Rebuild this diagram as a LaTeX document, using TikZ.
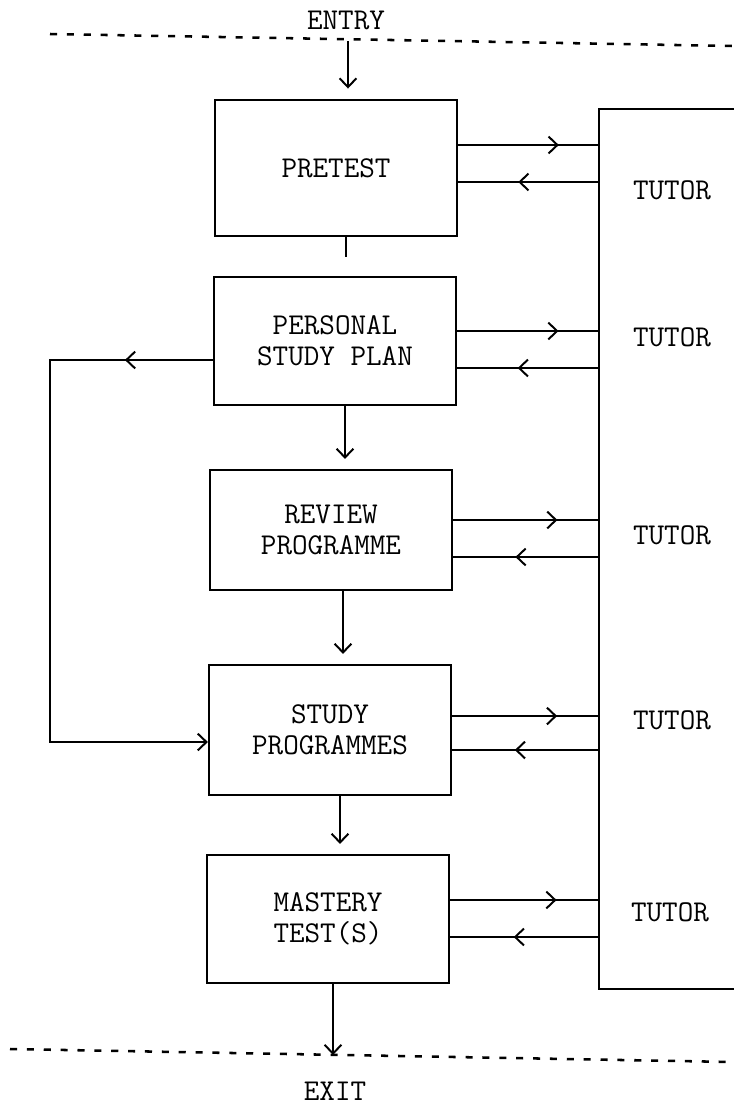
\documentclass[tikz,border=0pt]{standalone}
\usepackage{tikz}
\usetikzlibrary{arrows.meta,positioning,decorations.markings}

\begin{document}
\begin{tikzpicture}[x=0.025cm,y=-0.025cm,>={Straight Barb[length=.22cm,width=.42cm]},
  font=\ttfamily\fontsize{21.5}{22}\selectfont,
  box/.style={draw,line width=1.5pt,minimum width=6.05cm,align=center,inner sep=0pt},
  arrow/.style={->,line width=1.4pt,shorten >=.25cm},
  link/.style={line width=1.4pt,decoration={markings,mark=at position #1 with {\arrow{>}}},postaction={decorate}},
  link/.default=.72,
  border/.style={line width=1.8pt,dash pattern=on 5pt off 7pt}]
  \useasboundingbox (0,0) rectangle (733,1107);
  % entry and exit lines
  \coordinate (tl) at (50,34);\coordinate (tr) at (733,46);
  \coordinate (bl) at (10,1049);\coordinate (br) at (733,1062);
  \draw[border] (tl)--(tr);\draw[border] (bl)--(br);
  \node (entry) at (346,20) {ENTRY};
  \node (exit) at (335,1091) {EXIT};
  \coordinate (in) at (348,41);
  \coordinate (out) at (333,1055);
  % stages
  \node[box,minimum height=3.42cm] (pre) at (336,168) {PRETEST};
  \node[box,minimum height=3.18cm] (psp) at (335,341) {PERSONAL\\STUDY PLAN};
  \node[box,minimum height=3.0cm] (rev) at (331,530) {REVIEW\\PROGRAMME};
  \node[box,minimum height=3.25cm] (stu) at (330,730) {STUDY\\PROGRAMMES};
  \node[box,minimum height=3.2cm] (mas) at (328,919) {MASTERY\\TEST(S)};
  % tutor
  \node[draw,line width=1.5pt,minimum width=4cm,minimum height=22cm,anchor=north west] (tutor) at (598,108) {};
  \node (t1) at (672,190) {TUTOR};
  \node (t2) at (672,337) {TUTOR};
  \node (t3) at (672,535) {TUTOR};
  \node (t4) at (672,720) {TUTOR};
  \node (t5) at (670,912) {TUTOR};
  % main flow
  \draw[arrow] (in)--(in |- pre.north);
  \coordinate (stub) at (346,257);
  \draw[line width=1.4pt] (pre.south -| stub)--(stub);
  \draw[arrow] (psp.south -| 345,0)--(rev.north -| 345,0);
  \draw[arrow] (rev.south -| 343,0)--(stu.north -| 343,0);
  \draw[arrow] (stu.south -| 340,0)--(mas.north -| 340,0);
  \draw[->,line width=1.4pt] (mas.south -| out)--(out);
  % to and from the tutor
  \draw[link] (pre.east |- 0,145)--(tutor.west |- 0,145);
  \draw[link=.57] (tutor.west |- 0,182)--(pre.east |- 0,182);
  \draw[link] (psp.east |- 0,331)--(tutor.west |- 0,331);
  \draw[link=.57] (tutor.west |- 0,368)--(psp.east |- 0,368);
  \draw[link] (rev.east |- 0,520)--(tutor.west |- 0,520);
  \draw[link=.57] (tutor.west |- 0,557)--(rev.east |- 0,557);
  \draw[link] (stu.east |- 0,716)--(tutor.west |- 0,716);
  \draw[link=.57] (tutor.west |- 0,750)--(stu.east |- 0,750);
  \draw[link] (mas.east |- 0,900)--(tutor.west |- 0,900);
  \draw[link=.57] (tutor.west |- 0,937)--(mas.east |- 0,937);
  % skip the review
  \coordinate (loop) at (50,550);
  \draw[->,link=2.2cm] (psp.west |- 0,360) -| (loop) |- (stu.west |- 0,742);
\end{tikzpicture}
\end{document}
